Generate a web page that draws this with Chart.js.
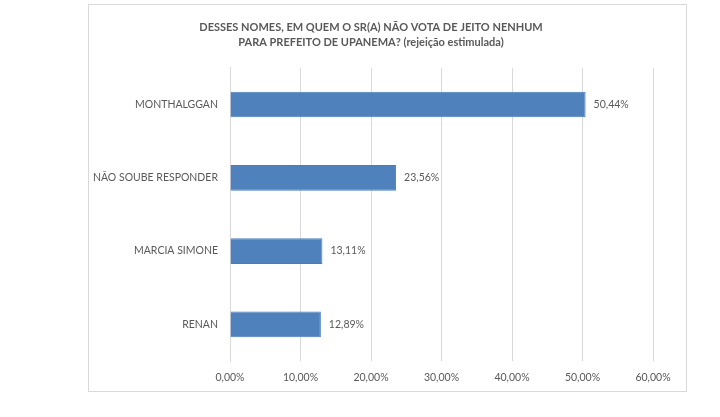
<!DOCTYPE html>
<html>
<head>
<meta charset="utf-8">
<script src="https://cdn.jsdelivr.net/npm/chart.js@4.4.1/dist/chart.umd.min.js"></script>
<style>
  html, body { margin: 0; padding: 0; background: #ffffff; }
  body { width: 720px; height: 417px; position: relative; overflow: hidden; }
  #box { position: absolute; left: 88px; top: 4px; width: 599px; height: 388px; border: 1px solid #d9d9d9; box-sizing: border-box; background: #fff; }
  #box canvas { display: block; }
</style>
</head>
<body>
<div id="box"><canvas id="c" width="597" height="386"></canvas></div>
<script>
const categories = ["MONTHALGGAN", "NÃO SOUBE RESPONDER", "MARCIA SIMONE", "RENAN"];
const values = [50.44, 23.56, 13.11, 12.89];
const titleLines = ["DESSES NOMES, EM QUEM O SR(A) NÃO VOTA DE JEITO NENHUM", "PARA PREFEITO DE UPANEMA? (rejeição estimulada)"];
const xMin = 0, xMax = 60, xStep = 10;

const fmt = v => v.toFixed(2).replace('.', ',') + '%';
const FONT = 'Lato, "Open Sans", sans-serif';
const GREY = '#595959';

const valueLabels = {
  id: 'valueLabels',
  afterDatasetsDraw(chart) {
    const ctx = chart.ctx;
    const meta = chart.getDatasetMeta(0);
    ctx.save();
    ctx.font = '10.5px ' + FONT;
    ctx.fillStyle = GREY;
    ctx.textAlign = 'left';
    ctx.textBaseline = 'middle';
    meta.data.forEach((bar, i) => {
      ctx.fillText(fmt(values[i]), bar.x + 8, bar.y);
    });
    ctx.restore();
  }
};

new Chart(document.getElementById('c'), {
  type: 'bar',
  data: {
    labels: categories,
    datasets: [{
      data: values,
      backgroundColor: '#4f81bd',
      borderColor: '#4a7ebb',
      borderWidth: 1,
      barPercentage: 0.35,
      categoryPercentage: 1.0
    }]
  },
  options: {
    indexAxis: 'y',
    responsive: false,
    animation: false,
    devicePixelRatio: 1,
    layout: { padding: { left: 0, right: 33, top: 0, bottom: 0 } },
    plugins: {
      legend: { display: false },
      tooltip: { enabled: false },
      title: {
        display: true,
        text: titleLines,
        color: GREY,
        font: { family: FONT, size: 11, weight: 'bold', lineHeight: 1.45 },
        padding: { top: 14, bottom: 17 }
      }
    },
    scales: {
      x: {
        min: xMin, max: xMax,
        ticks: {
          stepSize: xStep,
          color: GREY,
          font: { family: FONT, size: 10.5 },
          padding: 10,
          maxRotation: 0,
          callback: v => fmt(v)
        },
        grid: { color: '#d9d9d9', lineWidth: 1, drawTicks: false },
        border: { display: false },
        afterFit(scale) { scale.height = 30; }
      },
      y: {
        ticks: {
          color: GREY,
          font: { family: FONT, size: 10.5 },
          padding: 12
        },
        grid: { display: false, drawTicks: false },
        border: { display: true, color: '#d9d9d9' },
        afterFit(scale) { scale.width = 141; }
      }
    }
  },
  plugins: [valueLabels]
});
</script>
</body>
</html>
